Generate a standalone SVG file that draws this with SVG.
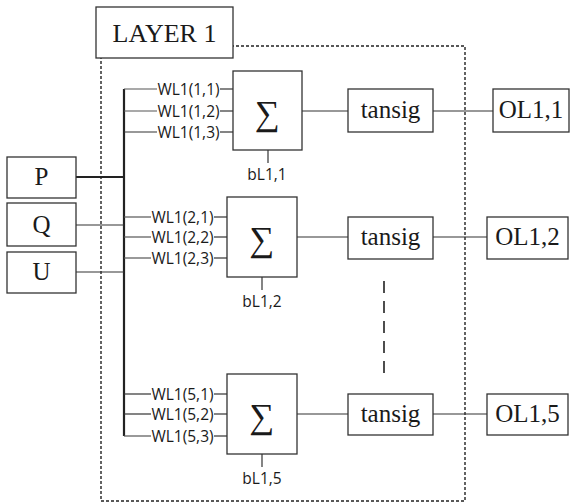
<svg xmlns="http://www.w3.org/2000/svg" width="571" height="502" viewBox="0 0 571 502">
<style>
.box{fill:#fff;stroke:#333;stroke-width:1.3}
.ser{font-family:"Liberation Serif","Times New Roman",serif;fill:#1a1a1a;text-anchor:middle}
.sig{font-family:"Liberation Serif","Times New Roman",serif;font-size:35px;fill:#1a1a1a;text-anchor:middle}
.san{font-family:"Open Sans","Noto Sans",sans-serif;font-size:15.5px;fill:#1a1a1a;text-anchor:middle}
.ln{stroke:#333;stroke-width:1.2;fill:none}
.wl{stroke:#555;stroke-width:1.2;fill:none}
</style>
<rect width="571" height="502" fill="#fff"/>
<rect id="layer-frame" x="101" y="46" width="364" height="455" fill="none" stroke="#222" stroke-width="1.4" stroke-dasharray="3,2"/>
<g id="connectors">
  <line x1="124" y1="89" x2="124" y2="436" stroke="#222" stroke-width="2.2"/>
  <line x1="76" y1="177" x2="124" y2="177" stroke="#222" stroke-width="2.2"/>
  <line class="ln" x1="76" y1="225" x2="124" y2="225"/>
  <line class="ln" x1="76" y1="272" x2="124" y2="272"/>
  <line class="wl" x1="124" y1="89" x2="157" y2="89"/>
  <line class="wl" x1="124" y1="111" x2="157" y2="111"/>
  <line class="ln" x1="124" y1="132" x2="157" y2="132"/>
  <line class="ln" x1="220" y1="89" x2="233" y2="89"/>
  <line class="ln" x1="220" y1="111" x2="233" y2="111"/>
  <line class="ln" x1="220" y1="132" x2="233" y2="132"/>
  <line class="wl" x1="124" y1="217" x2="151" y2="217"/>
  <line class="wl" x1="124" y1="237" x2="151" y2="237"/>
  <line class="wl" x1="124" y1="258" x2="151" y2="258"/>
  <line class="ln" x1="214" y1="217" x2="227" y2="217"/>
  <line class="ln" x1="214" y1="237" x2="227" y2="237"/>
  <line class="ln" x1="214" y1="258" x2="227" y2="258"/>
  <line class="ln" x1="124" y1="394" x2="151" y2="394"/>
  <line class="ln" x1="124" y1="414" x2="151" y2="414"/>
  <line class="wl" x1="124" y1="436" x2="151" y2="436"/>
  <line class="ln" x1="214" y1="394" x2="227" y2="394"/>
  <line class="ln" x1="214" y1="414" x2="227" y2="414"/>
  <line class="ln" x1="214" y1="436" x2="227" y2="436"/>
  <line class="ln" x1="268" y1="150" x2="268" y2="163"/>
  <line class="ln" x1="262" y1="277" x2="262" y2="290"/>
  <line class="ln" x1="262" y1="454" x2="262" y2="467"/>
  <line class="ln" x1="302" y1="111" x2="348" y2="111"/>
  <line class="ln" x1="297" y1="237" x2="348" y2="237"/>
  <line class="ln" x1="297" y1="414" x2="348" y2="414"/>
  <line class="ln" x1="433" y1="111" x2="493" y2="111"/>
  <line class="ln" x1="433" y1="237" x2="487" y2="237"/>
  <line class="ln" x1="433" y1="414" x2="487" y2="414"/>
  <line x1="384" y1="281" x2="384" y2="373" stroke="#222" stroke-width="1.6" stroke-dasharray="12,8"/>
</g>
<g id="layer-label"><rect class="box" x="96" y="7" width="137" height="51"/><text class="ser" x="164.5" y="42" font-size="26">LAYER 1</text></g>
<g id="in-P"><rect class="box" x="7" y="157" width="69" height="41"/><text class="ser" x="41.5" y="185" font-size="25">P</text></g>
<g id="in-Q"><rect class="box" x="7" y="203" width="69" height="43"/><text class="ser" x="41.5" y="233" font-size="25">Q</text></g>
<g id="in-U"><rect class="box" x="7" y="252" width="69" height="41"/><text class="ser" x="41.5" y="280" font-size="25">U</text></g>
<g id="w1"><text class="san" x="188.5" y="94.5">WL1(1,1)</text><text class="san" x="188.5" y="116.5">WL1(1,2)</text><text class="san" x="188.5" y="137.5">WL1(1,3)</text></g>
<g id="w2"><text class="san" x="182.5" y="222.5">WL1(2,1)</text><text class="san" x="182.5" y="242.5">WL1(2,2)</text><text class="san" x="182.5" y="263.5">WL1(2,3)</text></g>
<g id="w5"><text class="san" x="182.5" y="399.5">WL1(5,1)</text><text class="san" x="182.5" y="419.5">WL1(5,2)</text><text class="san" x="182.5" y="441.5">WL1(5,3)</text></g>
<g id="sum1"><rect class="box" x="233" y="71" width="69" height="79"/><text class="sig" x="267.5" y="125">∑</text><text class="san" x="267" y="180">bL1,1</text></g>
<g id="sum2"><rect class="box" x="227" y="197" width="70" height="80"/><text class="sig" x="262" y="251">∑</text><text class="san" x="262" y="307">bL1,2</text></g>
<g id="sum5"><rect class="box" x="227" y="374" width="70" height="80"/><text class="sig" x="262" y="428">∑</text><text class="san" x="262" y="484">bL1,5</text></g>
<g id="tansig1"><rect class="box" x="348" y="89" width="85" height="43"/><text class="ser" x="390.5" y="118" font-size="25">tansig</text></g>
<g id="tansig2"><rect class="box" x="348" y="217" width="85" height="42"/><text class="ser" x="390.5" y="245" font-size="25">tansig</text></g>
<g id="tansig5"><rect class="box" x="348" y="394" width="85" height="41"/><text class="ser" x="390.5" y="422" font-size="25">tansig</text></g>
<g id="out1"><rect class="box" x="493" y="89" width="76" height="43"/><text class="ser" x="531" y="118" font-size="25">OL1,1</text></g>
<g id="out2"><rect class="box" x="487" y="217" width="81" height="42"/><text class="ser" x="527.5" y="245" font-size="25">OL1,2</text></g>
<g id="out5"><rect class="box" x="487" y="394" width="81" height="41"/><text class="ser" x="527.5" y="422" font-size="25">OL1,5</text></g>
</svg>
